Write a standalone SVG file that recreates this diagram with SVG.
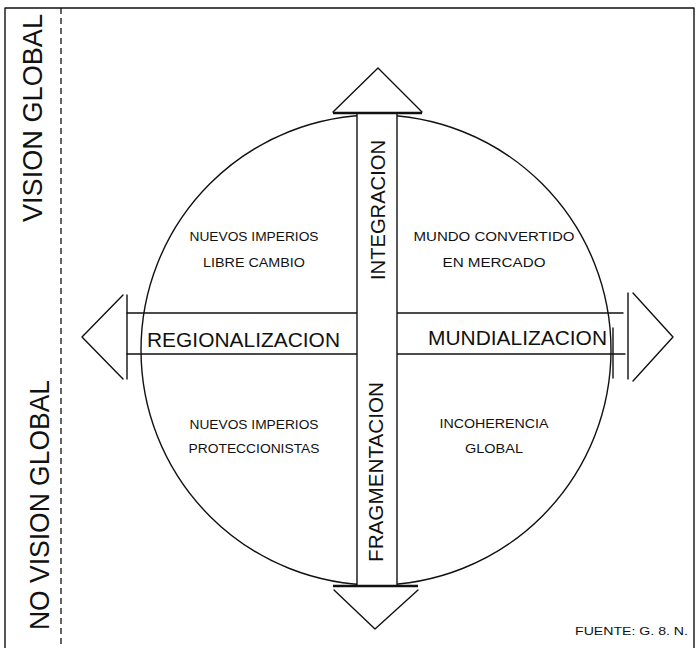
<svg xmlns="http://www.w3.org/2000/svg" width="696" height="648" viewBox="0 0 696 648">
<defs>
<style>
.ln{stroke:#111;stroke-width:1.4;fill:none;stroke-linecap:round;stroke-linejoin:round}
.thick{stroke:#111;stroke-width:2.6;fill:none}
.dash{stroke:#111;stroke-width:1.3;fill:none;stroke-dasharray:6 4}
.big{font-family:"Liberation Sans",Arial,sans-serif;font-size:21px;fill:#111}
.side{font-family:"Liberation Sans",Arial,sans-serif;font-size:28px;fill:#111}
.q{font-family:"Liberation Sans",Arial,sans-serif;font-size:12.5px;fill:#111;text-anchor:middle}
.src{font-family:"Liberation Sans",Arial,sans-serif;font-size:10.5px;fill:#111}
</style>
</defs>
<rect width="696" height="648" fill="#fff"/>
<g id="frame">
<path class="ln" d="M5,648 V8 H694 V648"/>
<line class="dash" x1="61" y1="8" x2="61" y2="648"/>
</g>
<g id="zone-vision">
<text class="side" transform="translate(42,222) rotate(-90)" textLength="208" lengthAdjust="spacingAndGlyphs">VISION GLOBAL</text>
</g>
<g id="zone-no-vision">
<text class="side" transform="translate(49,630) rotate(-90)" textLength="250" lengthAdjust="spacingAndGlyphs">NO VISION GLOBAL</text>
</g>
<g id="circle">
<circle class="ln" cx="376" cy="350" r="235"/>
</g>
<g id="connectors">
<g id="axis-horizontal">
<line class="ln" x1="127" y1="313" x2="623" y2="313"/>
<line class="ln" x1="127" y1="354" x2="625" y2="354"/>
<line class="ln" x1="613" y1="328" x2="613" y2="378"/>
</g>
<g id="arrow-left">
<line class="ln" x1="127" y1="295" x2="127" y2="379"/>
<polyline class="ln" points="123,295 82,337 123,379"/>
</g>
<g id="arrow-right">
<line class="ln" x1="628" y1="293" x2="628" y2="379"/>
<polyline class="ln" points="633,293 673,337 633,381"/>
</g>
<g id="axis-vertical">
<rect x="357" y="113" width="40" height="473" fill="#fff"/>
<line class="ln" x1="357" y1="113" x2="357" y2="586"/>
<line class="ln" x1="397" y1="113" x2="397" y2="586"/>
</g>
<g id="arrow-up">
<line class="thick" x1="333" y1="113" x2="422" y2="113"/>
<polyline class="ln" points="333,112 378,68 422,112"/>
</g>
<g id="arrow-down">
<line class="thick" x1="333" y1="586" x2="418" y2="586"/>
<polyline class="ln" points="334,590 375,629 418,590"/>
</g>
</g>
<g id="label-regionalizacion">
<text class="big" x="147" y="347" textLength="193" lengthAdjust="spacingAndGlyphs">REGIONALIZACION</text>
</g>
<g id="label-mundializacion">
<text class="big" x="428" y="345" textLength="179" lengthAdjust="spacingAndGlyphs">MUNDIALIZACION</text>
</g>
<g id="label-integracion">
<text class="big" transform="translate(385,280) rotate(-90)" textLength="140" lengthAdjust="spacingAndGlyphs">INTEGRACION</text>
</g>
<g id="label-fragmentacion">
<text class="big" transform="translate(383,562) rotate(-90)" textLength="180" lengthAdjust="spacingAndGlyphs">FRAGMENTACION</text>
</g>
<g id="quadrant-nw">
<text class="q" x="254" y="241" textLength="129" lengthAdjust="spacingAndGlyphs">NUEVOS IMPERIOS</text>
<text class="q" x="254" y="267" textLength="102" lengthAdjust="spacingAndGlyphs">LIBRE CAMBIO</text>
</g>
<g id="quadrant-ne">
<text class="q" x="494" y="241" textLength="161" lengthAdjust="spacingAndGlyphs">MUNDO CONVERTIDO</text>
<text class="q" x="494" y="267" textLength="103" lengthAdjust="spacingAndGlyphs">EN MERCADO</text>
</g>
<g id="quadrant-sw">
<text class="q" x="254" y="429" textLength="129" lengthAdjust="spacingAndGlyphs">NUEVOS IMPERIOS</text>
<text class="q" x="254" y="453" textLength="131" lengthAdjust="spacingAndGlyphs">PROTECCIONISTAS</text>
</g>
<g id="quadrant-se">
<text class="q" x="494" y="428" textLength="109" lengthAdjust="spacingAndGlyphs">INCOHERENCIA</text>
<text class="q" x="494" y="453" textLength="58" lengthAdjust="spacingAndGlyphs">GLOBAL</text>
</g>
<g id="source">
<text class="src" x="575" y="635" textLength="113" lengthAdjust="spacingAndGlyphs">FUENTE: G. 8. N.</text>
</g>
</svg>
